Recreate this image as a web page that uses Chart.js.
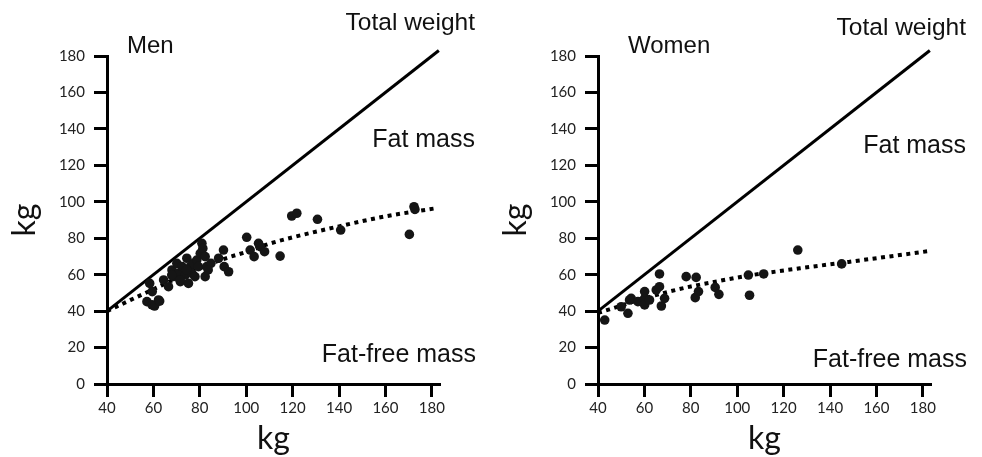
<!DOCTYPE html>
<html>
<head>
<meta charset="utf-8">
<script src="https://cdn.jsdelivr.net/npm/chart.js@4"></script>
<style>
  html, body { margin: 0; padding: 0; background: #fff; }
  #wrap { display: flex; width: 982px; height: 457px; }
  canvas { display: block; }
</style>
</head>
<body>
<div id="wrap">
  <canvas id="menChart" width="491" height="457"></canvas>
  <canvas id="womenChart" width="491" height="457"></canvas>
</div>
<script>
// total weight (x) vs fat-free mass (y), kg
const menX = [57.2, 59.4, 60.5, 62.2, 59.5, 58.4, 62.7, 64.4, 66.5, 68, 68.7, 70.1, 70.8, 71.6, 72.3, 73.7, 74.4, 75.1, 75.9, 76.6,
  77.3, 77.9, 78.7, 79.4, 80.2, 80.9, 81.3, 82.3, 82.3, 83, 84.8, 88.1, 90.2, 90.5, 92.4, 100.2, 101.7, 103.4, 105.3, 106,
  107.9, 114.6, 119.6, 121.8, 130.7, 140.7, 170.3, 172.3, 172.7, 67.9, 71.5, 74.3, 83.6];
const menY = [45.2, 43.4, 42.8, 46.1, 50.7, 55.2, 45.5, 57.1, 53.4, 62.6, 59, 66.2, 60.7, 56.2, 64.4, 59.8, 69, 55.2, 64.4, 60.7,
  66.2, 58.9, 68, 64.4, 71.7, 77.2, 74.4, 69.9, 58.9, 64.4, 66.2, 69, 73.5, 64.4, 61.6, 80.5, 73.5, 69.9, 77.2, 75.4,
  72.6, 70.2, 92.2, 93.7, 90.4, 84.5, 82.1, 97.3, 95.8, 59.8, 57.1, 62.6, 62.6];

const womenX = [42.9, 50, 52.9, 53.6, 54.3, 57.2, 60.1, 60.1, 60.1, 62.2, 65.1, 66.5, 66.5, 67.3, 68.7, 78, 82.3, 81.9, 83.3, 90.5,
  92.1, 104.8, 105.3, 111.4, 126.1, 145];
const womenY = [35.1, 42.4, 38.8, 46.1, 47, 45.2, 47, 50.7, 43.4, 46.1, 51.6, 53.4, 60.4, 42.8, 47, 58.9, 58.5, 47.4, 50.7, 53,
  49.2, 59.8, 48.7, 60.4, 73.5, 65.9];

// fitted fat-free mass curves (dotted)
const menTrendX = [40, 50, 60, 70, 80, 90, 100, 110, 120, 140, 160, 182];
const menTrendY = [40, 46, 52, 58, 63.5, 68.5, 72.5, 77, 80.5, 86.5, 92, 96.5];
const womenTrendX = [40, 45, 60, 70, 80, 90, 105, 127, 148, 183];
const womenTrendY = [39, 41, 47, 50.5, 53.5, 56, 59.5, 63.5, 67, 73];

// total weight line (identity)
const totalX = [40, 183];
const totalY = [40, 183];

const xTicks = [40, 60, 80, 100, 120, 140, 160, 180];
const yTicks = [0, 20, 40, 60, 80, 100, 120, 140, 160, 180];

const textLabels = {
  id: 'textLabels',
  afterDraw(chart, args, opts) {
    const ctx = chart.ctx;
    ctx.save();
    ctx.fillStyle = '#111';
    ctx.textBaseline = 'alphabetic';
    opts.items.forEach(t => {
      ctx.font = t.size + 'px "Liberation Sans", Arial, sans-serif';
      ctx.textAlign = t.align;
      ctx.fillText(t.text, t.x, t.y);
    });
    ctx.restore();
  }
};

function toPoints(xs, ys) {
  return xs.map((x, i) => ({ x: x, y: ys[i] }));
}

function makeChart(id, px, py, tx, ty, labels) {
  const axisGrid = {
    drawOnChartArea: false,
    drawTicks: true,
    tickLength: 13,
    color: '#000',
    tickColor: '#000',
    tickWidth: 3
  };
  const tickFont = { family: 'Lato', size: 15 };
  return new Chart(document.getElementById(id), {
    type: 'scatter',
    data: {
      datasets: [
        {
          data: toPoints(px, py),
          pointRadius: 4.8,
          pointBackgroundColor: '#151515',
          pointBorderWidth: 0,
          showLine: false,
          clip: false
        },
        {
          data: toPoints(tx, ty),
          showLine: true,
          pointRadius: 0,
          borderColor: '#000',
          borderWidth: 4,
          borderDash: [4, 4.5],
          borderCapStyle: 'butt',
          cubicInterpolationMode: 'monotone',
          clip: false
        },
        {
          data: toPoints(totalX, totalY),
          showLine: true,
          pointRadius: 0,
          borderColor: '#000',
          borderWidth: 3,
          clip: false
        }
      ]
    },
    options: {
      responsive: false,
      animation: false,
      devicePixelRatio: 1,
      layout: { padding: { left: 0, right: 51, top: 56, bottom: 0 } },
      scales: {
        x: {
          type: 'linear',
          min: 40,
          max: 183.5,
          afterFit: s => { s.height = 73; },
          afterBuildTicks: s => { s.ticks = xTicks.map(v => ({ value: v })); },
          border: { display: true, color: '#000', width: 3 },
          grid: axisGrid,
          ticks: { color: '#222', font: tickFont, padding: 2, maxRotation: 0, autoSkip: false },
          title: {
            display: true,
            text: 'kg',
            color: '#111',
            font: { family: 'Lato', size: 32, lineHeight: 1 },
            padding: { top: 0, bottom: 2 }
          }
        },
        y: {
          type: 'linear',
          min: 0,
          max: 180,
          afterFit: s => { s.width = 107; },
          afterBuildTicks: s => { s.ticks = yTicks.map(v => ({ value: v })); },
          border: { display: true, color: '#000', width: 3 },
          grid: axisGrid,
          ticks: { color: '#222', font: tickFont, padding: 9, autoSkip: false },
          title: {
            display: true,
            text: 'kg',
            color: '#111',
            font: { family: 'Lato', size: 32, lineHeight: 1 },
            padding: { top: 9, bottom: 0 }
          }
        }
      },
      plugins: {
        legend: { display: false },
        tooltip: { enabled: false },
        textLabels: { items: labels }
      }
    },
    plugins: [textLabels]
  });
}

makeChart('menChart', menX, menY, menTrendX, menTrendY, [
  { text: 'Men', x: 127, y: 53, size: 24, align: 'left' },
  { text: 'Total weight', x: 475, y: 30, size: 24.5, align: 'right' },
  { text: 'Fat mass', x: 475, y: 147, size: 25, align: 'right' },
  { text: 'Fat-free mass', x: 476, y: 362, size: 25, align: 'right' }
]);

makeChart('womenChart', womenX, womenY, womenTrendX, womenTrendY, [
  { text: 'Women', x: 137, y: 53, size: 24, align: 'left' },
  { text: 'Total weight', x: 475, y: 35, size: 24.5, align: 'right' },
  { text: 'Fat mass', x: 475, y: 153, size: 25, align: 'right' },
  { text: 'Fat-free mass', x: 476, y: 367, size: 25, align: 'right' }
]);
</script>
</body>
</html>
